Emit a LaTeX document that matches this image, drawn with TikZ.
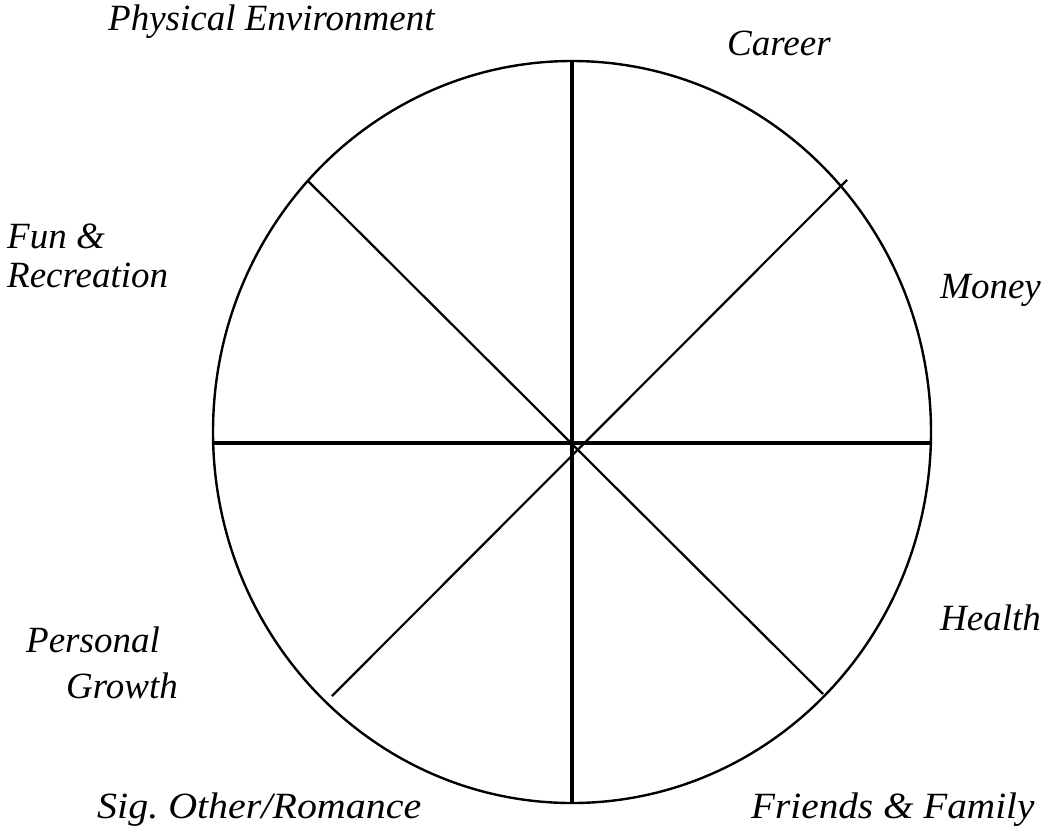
\documentclass[tikz,border=0pt]{standalone}
\usepackage{fontspec}
\setmainfont{Liberation Serif}
\begin{document}
\begin{tikzpicture}[x=1pt,y=-1pt,
  lbl/.style={anchor=base west,inner sep=0pt,font=\fontsize{37}{44}\selectfont\itshape},
  rim/.style={line width=2.4pt},
  axis/.style={line width=3.4pt},
  diag/.style={line width=2.2pt}]
\useasboundingbox (0,0) rectangle (1043,831);
\coordinate (top) at (572,61);
\coordinate (bot) at (572,803);
\coordinate (lft) at (213,443);
\coordinate (rgt) at (932,443);
\coordinate (tl) at (308,181);
\coordinate (br) at (823,694);
\coordinate (tr) at (847,180);
\coordinate (bl) at (332,696);
\draw[rim] (572,432) ellipse [x radius=359, y radius=371];
\draw[axis] (top) -- (bot);
\draw[axis] (lft) -- (rgt);
\draw[diag] (tl) -- (br);
\draw[diag] (tr) -- (bl);
\node[lbl] (pe) at (108,30) {Physical Environment};
\node[lbl] (ca) at (727,55) {Career};
\node[lbl] (fu) at (7,248) {Fun \&};
\node[lbl] (re) at (7,287) {Recreation};
\node[lbl] (mo) at (940,298) {Money};
\node[lbl] (he) at (940,630) {Health};
\node[lbl] (p1) at (26,652) {Personal};
\node[lbl] (p2) at (66,698) {Growth};
\node[lbl,transform shape,xscale=1.08] (so) at (97,818) {Sig.\ Other/Romance};
\node[lbl,transform shape,xscale=1.06] (ff) at (751,818) {Friends \& Family};
\end{tikzpicture}
\end{document}
